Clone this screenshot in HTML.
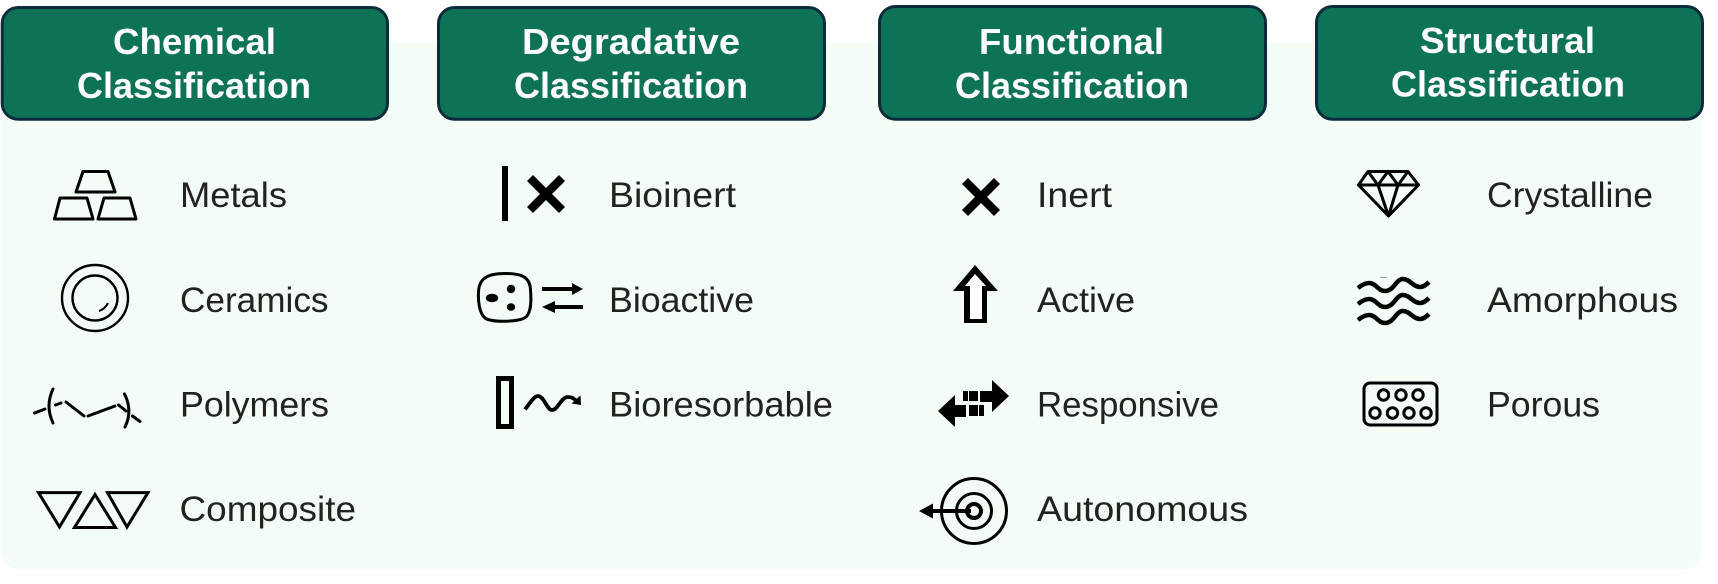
<!DOCTYPE html>
<html lang="en"><head><meta charset="utf-8"><title>Classification</title>
<style>
html,body{margin:0;padding:0;background:#fff;width:1718px;height:584px;overflow:hidden}
svg{display:block}
.h{font:bold 36px "Liberation Sans",sans-serif;fill:#fff}
.t{font:normal 35px "Liberation Sans",sans-serif;fill:#222}
.box{fill:#0e7356;stroke:#0c2b3c;stroke-width:3}
.s{fill:none;stroke:#000;stroke-width:3}
</style></head><body>
<svg width="1718" height="584" viewBox="0 0 1718 584" xmlns="http://www.w3.org/2000/svg">
<rect x="0.5" y="43" width="1701.5" height="526" rx="18" fill="#f3fdf6"/>

<rect class="box" x="2.2" y="7.5" width="385.3" height="111.7" rx="16"/>
<rect class="box" x="438.5" y="7.5" width="386" height="111.7" rx="16"/>
<rect class="box" x="879.5" y="6.5" width="386" height="112.7" rx="16"/>
<rect class="box" x="1316.5" y="6.5" width="386" height="112.7" rx="16"/>

<text class="h" x="113" y="54" textLength="163" lengthAdjust="spacingAndGlyphs">Chemical</text>
<text class="h" x="77" y="98" textLength="234" lengthAdjust="spacingAndGlyphs">Classification</text>
<text class="h" x="522" y="54" textLength="218" lengthAdjust="spacingAndGlyphs">Degradative</text>
<text class="h" x="514" y="98" textLength="234" lengthAdjust="spacingAndGlyphs">Classification</text>
<text class="h" x="979" y="54" textLength="185" lengthAdjust="spacingAndGlyphs">Functional</text>
<text class="h" x="955" y="98" textLength="234" lengthAdjust="spacingAndGlyphs">Classification</text>
<text class="h" x="1420" y="53" textLength="175" lengthAdjust="spacingAndGlyphs">Structural</text>
<text class="h" x="1391" y="96.5" textLength="234" lengthAdjust="spacingAndGlyphs">Classification</text>

<text class="t" x="180" y="207" textLength="107" lengthAdjust="spacingAndGlyphs">Metals</text>
<text class="t" x="180" y="312" textLength="148.500" lengthAdjust="spacingAndGlyphs">Ceramics</text>
<text class="t" x="180" y="416.500" textLength="149" lengthAdjust="spacingAndGlyphs">Polymers</text>
<text class="t" x="179.500" y="521" textLength="176.500" lengthAdjust="spacingAndGlyphs">Composite</text>
<text class="t" x="609" y="207" textLength="127" lengthAdjust="spacingAndGlyphs">Bioinert</text>
<text class="t" x="609" y="312" textLength="145" lengthAdjust="spacingAndGlyphs">Bioactive</text>
<text class="t" x="609" y="416.500" textLength="224" lengthAdjust="spacingAndGlyphs">Bioresorbable</text>
<text class="t" x="1037" y="207" textLength="75" lengthAdjust="spacingAndGlyphs">Inert</text>
<text class="t" x="1037" y="312" textLength="98" lengthAdjust="spacingAndGlyphs">Active</text>
<text class="t" x="1037" y="416.500" textLength="182" lengthAdjust="spacingAndGlyphs">Responsive</text>
<text class="t" x="1037" y="521" textLength="211" lengthAdjust="spacingAndGlyphs">Autonomous</text>
<text class="t" x="1487" y="207" textLength="166" lengthAdjust="spacingAndGlyphs">Crystalline</text>
<text class="t" x="1487" y="312" textLength="191" lengthAdjust="spacingAndGlyphs">Amorphous</text>
<text class="t" x="1487" y="416.500" textLength="113" lengthAdjust="spacingAndGlyphs">Porous</text>

<!-- Metals -->
<g class="s" stroke-width="3.400" stroke-linejoin="round">
<path d="M83,171.500H108L115,192H76Z"/>
<path d="M60,198H87L93,219H54.500Z"/>
<path d="M104,198H130L136,219H98Z"/>
</g>
<!-- Ceramics -->
<g class="s">
<circle cx="95" cy="298" r="33" stroke-width="2.400"/>
<circle cx="95" cy="298" r="22.500" stroke-width="2.400"/>
<path d="M99,311Q105,309 108,303" stroke-width="2"/>
</g>
<!-- Polymers -->
<g class="s" stroke-width="3.200" stroke-linecap="round">
<path d="M34.500,413L45,409"/>
<path d="M53,389Q45,406 53,423"/>
<path d="M55.500,405L61,403"/>
<path d="M66,402L84,416"/>
<path d="M88,416L115,406"/>
<path d="M118.500,405L126,411"/>
<path d="M124.500,394Q133,411 125,427"/>
<path d="M132.500,416L140,421.500"/>
</g>
<!-- Composite -->
<g class="s" stroke-width="3.800">
<path d="M38.500,492.600H80L59.500,527Z"/>
<path d="M95,494.500L115.500,527.500H74.500Z"/>
<path d="M107.500,492.600H148L127,527Z"/>
</g>

<!-- Bioinert -->
<rect x="502" y="166" width="6" height="55" fill="#000"/>
<path d="M530,178L562,210M562,178L530,210" stroke="#000" stroke-width="8.500" fill="none"/>
<!-- Bioactive -->
<path class="s" d="M505,273.500C520,273.500 530,276 530.500,290C531.500,302 531,312 526,317C520,322 492,323 485,318C479,313 478,300 478.500,292C479,278 488,273.500 505,273.500Z"/>
<ellipse cx="492" cy="298" rx="6.200" ry="4.200"/>
<circle cx="511" cy="289" r="4.200"/>
<ellipse cx="511" cy="307" rx="4.200" ry="3.700"/>
<path d="M542,287H572V283L583,289L572,295V291H542Z"/>
<path d="M583,305H555V301L542,307L555,313V309H583Z"/>
<!-- Bioresorbable -->
<rect x="498.500" y="378.500" width="13" height="48" fill="none" stroke="#000" stroke-width="5"/>
<path d="M525,409.500C530,403 534,396 538,396C544,396 547,410 552,410C558,410 561,397 568,397C572,397 575,399 577,402" fill="none" stroke="#000" stroke-width="3.800"/>
<path d="M580.500,395.500L581,405L571.500,403.500Z"/>

<!-- Inert -->
<path d="M965,181L997,213M997,181L965,213" stroke="#000" stroke-width="8.500" fill="none"/>
<!-- Active -->
<path d="M975,265L998,291H987V323H964V291H953Z"/>
<path d="M975,274L986,286H982V319H970V286H965Z" fill="#fff"/>
<!-- Responsive -->
<path d="M1009,396L992,380V391H980V402H992V412Z"/>
<rect x="963" y="391" width="5" height="10"/>
<rect x="969" y="391" width="9" height="10"/>
<path d="M938,411L955,395V405H966V417H955V427Z"/>
<rect x="969" y="405" width="9" height="11"/>
<rect x="979" y="405" width="5" height="11"/>
<!-- Autonomous -->
<g class="s" stroke-width="3.400">
<circle cx="974" cy="511" r="32.500"/>
<circle cx="974" cy="511" r="17.500"/>
<circle cx="974" cy="511" r="7" stroke-width="4"/>
</g>
<path d="M971,509H933V503.500L919,511L933,518.500V513H971Z"/>

<!-- Crystalline -->
<path class="s" stroke-width="3" stroke-linejoin="round" d="M1368,171.500H1408L1418.500,185L1388.500,216L1358.500,185ZM1358.500,185H1418.500M1368,171.500L1378,185L1388,171.500L1398,185L1408,171.500M1378,185L1388.500,216L1398,185"/>
<!-- Amorphous -->
<g fill="none" stroke="#000" stroke-width="4.500">
<path d="M1358,288C1363,284 1366,283 1369,283C1376,283 1378,291 1385,291C1394,291 1396,279 1403,279C1410,279 1413,287 1420,287C1424,287 1427,284 1429,282"/>
<path d="M1358,304C1363,300 1366,299 1369,299C1376,299 1378,307 1385,307C1394,307 1396,295 1403,295C1410,295 1413,303 1420,303C1424,303 1427,300 1429,298"/>
<path d="M1358,320C1363,316 1366,315 1369,315C1376,315 1378,323 1385,323C1394,323 1396,311 1403,311C1410,311 1413,319 1420,319C1424,319 1427,316 1429,314"/>
</g>
<rect x="1380" y="277" width="7" height="0.800" fill="#888"/>
<!-- Porous -->
<rect class="s" stroke-width="3.200" x="1364" y="383" width="73" height="42" rx="6"/>
<g class="s">
<circle cx="1383.500" cy="395" r="5.200"/><circle cx="1401" cy="395" r="5.200"/><circle cx="1418" cy="395" r="5.200"/>
<circle cx="1375" cy="413" r="5.200"/><circle cx="1392.500" cy="413" r="5.200"/><circle cx="1409" cy="413" r="5.200"/><circle cx="1426" cy="413" r="5.200"/>
</g>
</svg>
</body></html>
